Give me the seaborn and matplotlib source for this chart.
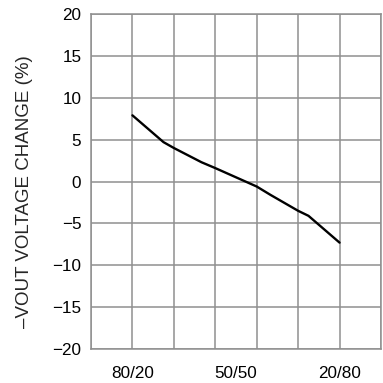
import matplotlib
matplotlib.use("Agg")
import matplotlib.pyplot as plt
import seaborn as sns
import pandas as pd

# Data
ratio = [80, 71, 68, 60, 56, 44, 40, 32, 29, 20]          # first component of ratio (%)
vout_change = [7.9, 4.7, 4.0, 2.3, 1.6, -0.6, -1.6, -3.5, -4.1, -7.3]
xtick_pos = [80, 50, 20]
xtick_labels = ["80/20", "50/50", "20/80"]
ytick_vals = [-20, -15, -10, -5, 0, 5, 10, 15, 20]
xgrid_pos = [92, 80, 68, 56, 44, 32, 20, 8]

sns.set_theme(style="white")
plt.rcParams['font.family'] = ['Liberation Sans', 'DejaVu Sans']

df = pd.DataFrame({"ratio": ratio, "vout": vout_change})

fig = plt.figure(figsize=(3.83, 3.83), dpi=100)
ax = fig.add_axes([91/383, 1-349/383, 290/383, 335/383])

gc = "#8f8f8f"
for xv in xgrid_pos:
    ax.axvline(xv, color=gc, linewidth=1.1, zorder=1)

sns.lineplot(data=df, x="ratio", y="vout", sort=False, color="black",
             linewidth=1.7, ax=ax, zorder=3)

ax.set_xlim(92, 8)
ax.set_ylim(-20, 20)
ax.set_xticks(xtick_pos)
ax.set_xticklabels(xtick_labels)
ax.set_yticks(ytick_vals)
ax.grid(False)
ax.grid(True, axis="y", which="major", color=gc, linewidth=1.1)
ax.set_axisbelow(True)
ax.tick_params(axis="both", which="both", length=0, labelsize=12.3, colors="black")
ax.tick_params(axis="y", pad=7)
ax.tick_params(axis="x", pad=12)
for s in ax.spines.values():
    s.set_color(gc)
    s.set_linewidth(1.1)
ax.set_xlabel("")
ax.set_ylabel("\u2013VOUT VOLTAGE CHANGE (%)", fontsize=13.5)
ax.yaxis.set_label_coords(-0.2, 0.47)

fig.savefig("out.png", dpi=100)
